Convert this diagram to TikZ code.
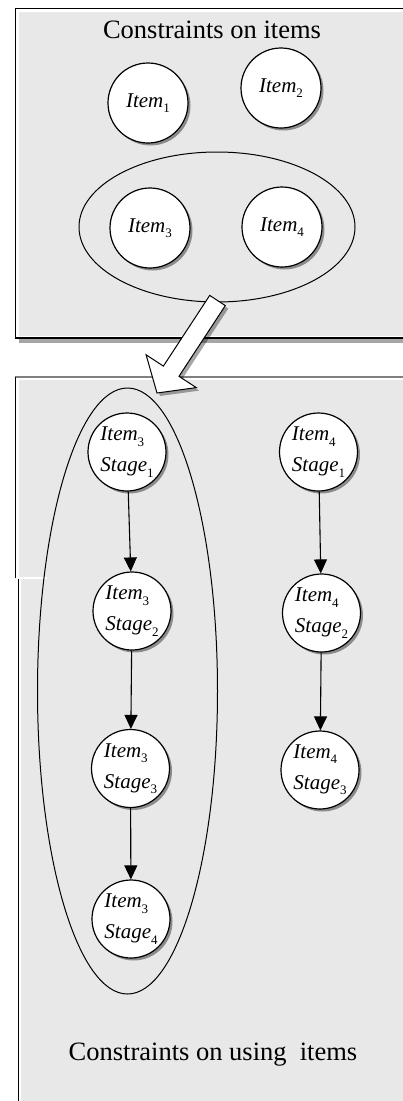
\documentclass[tikz,border=0pt]{standalone}
\usepackage{fontspec}
\setmainfont{Liberation Serif}
\usetikzlibrary{shadows,arrows.meta}
\definecolor{bg}{gray}{0.91}
\newcommand\sbs[1]{\raisebox{-0.25em}{\fontsize{13}{13}\selectfont\upshape #1}}
\tikzset{
  item/.style={circle,draw=black,line width=1.2pt,fill=white,minimum size=80pt,inner sep=0pt,
    font=\fontsize{21}{31}\selectfont\itshape,
    drop shadow={shadow xshift=2.5pt,shadow yshift=-2.5pt,opacity=0.4,fill=black}},
  stg/.style={item,minimum size=78pt,align=left},
  flow/.style={draw=black,line width=1.1pt,-{Triangle[length=14pt,width=13pt]}},
  group/.style={draw=black,line width=1pt},
  title/.style={font=\fontsize{26.5}{30}\selectfont}
}
\begin{document}
\begin{tikzpicture}[x=1pt,y=-1pt]
\useasboundingbox (0,0) rectangle (403,1101);
% top box
\fill[white] (15,8) rectangle (420,338);
\fill[bg] (19,12) rectangle (420,336);
\fill[gray!70] (19,339) rectangle (420,343);
\draw[black,line width=1pt] (420,8) -- (15,8) -- (15,338);
\draw[black,line width=1.8pt] (15,338) -- (420,338);
% bottom box
\fill[bg] (19,380) rectangle (420,1110);
\fill[white] (15,578) rectangle (21,1110);
\fill[white] (15,577.3) rectangle (47,579.3);
\draw[gray,line width=1.6pt] (15,377) -- (420,377);
\draw[black,line width=1pt] (15,377) -- (15,578);
\draw[black,line width=1pt] (18,579) -- (18,1110);
% titles
\node[title] (t1) at (212,30) {Constraints on items};
\node[title] (t2) at (213,1055) {Constraints on using\ \ items};
% top group
\draw[group] (217,227) ellipse [x radius=138pt, y radius=75pt];
\node[item] (i1) at (148,103) {Item\sbs{1}};
\node[item] (i2) at (281,88) {Item\sbs{2}};
\node[item] (i3) at (150,228) {Item\sbs{3}};
\node[item] (i4) at (282,227) {Item\sbs{4}};
% big arrow
\draw[fill=white,line width=1pt,drop shadow={shadow xshift=3pt,shadow yshift=-3pt,opacity=0.35,fill=black}]
  (209.7,295.4) -- (225.3,305.6) -- (179.0,376.3) -- (196.3,387.6) -- (157,393)
  -- (146.1,354.8) -- (163.4,366.1) -- cycle;
% bottom group
\draw[group] (127.5,691) ellipse [x radius=90pt, y radius=303pt];
\node[stg] (s1) at (127,452) {Item\sbs{3}\\Stage\sbs{1}};
\node[stg] (s2) at (132,611) {Item\sbs{3}\\Stage\sbs{2}};
\node[stg] (s3) at (130.5,768.5) {Item\sbs{3}\\Stage\sbs{3}};
\node[stg] (s4) at (131,919) {Item\sbs{3}\\Stage\sbs{4}};
\node[stg] (r1) at (318.5,452) {Item\sbs{4}\\Stage\sbs{1}};
\node[stg] (r2) at (321.5,613) {Item\sbs{4}\\Stage\sbs{2}};
\node[stg] (r3) at (320,770) {Item\sbs{4}\\Stage\sbs{3}};
\draw[flow] (s1) -- (s2);
\draw[flow] (s2) -- (s3);
\draw[flow] (s3) -- (s4);
\draw[flow] (r1) -- (r2);
\draw[flow] (r2) -- (r3);
\end{tikzpicture}
\end{document}
